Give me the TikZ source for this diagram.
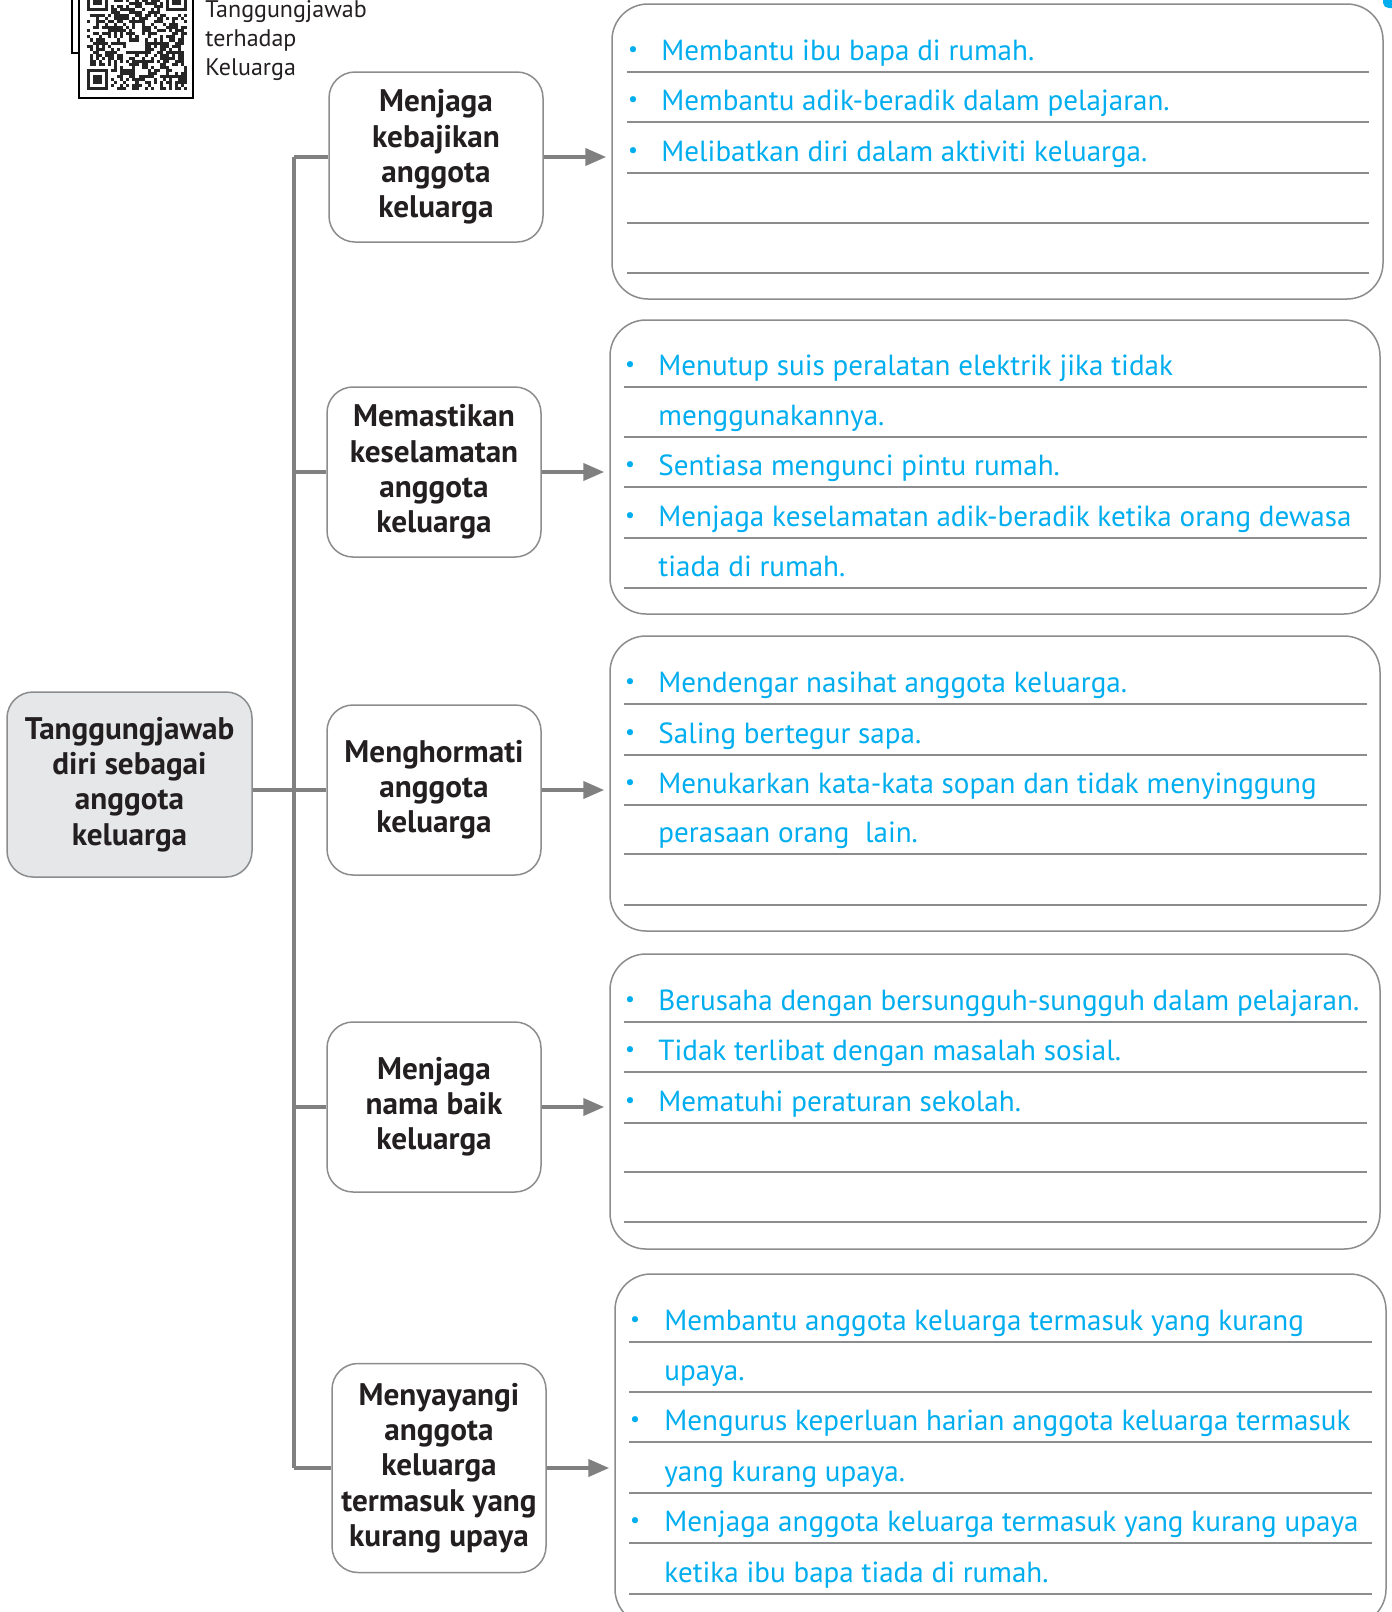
\documentclass[tikz,border=0pt]{standalone}
\usepackage{fontspec}
\setmainfont{PT Sans}
\usetikzlibrary{arrows.meta}
\definecolor{cyanb}{HTML}{00AEEF}
\definecolor{lgray}{HTML}{E6E7E8}
\definecolor{bgray}{HTML}{8A8C8E}
\definecolor{tgray}{HTML}{808080}
\definecolor{tblack}{HTML}{231F20}
\begin{document}
\begin{tikzpicture}[x=0.5pt,y=-0.5pt,
  midbox/.style={draw=bgray, line width=0.75pt, rounded corners=13pt, minimum width=107pt, minimum height=85pt, align=center, font=\fontsize{15.6}{17.6}\selectfont\bfseries, text=tblack, inner sep=0pt},
  rootbox/.style={midbox, fill=lgray, minimum width=122.5pt, minimum height=92.5pt},
  resbox/.style={draw=bgray, line width=0.75pt, rounded corners=18pt, inner sep=0pt},
  rule/.style={draw=bgray, line width=1pt},
  item/.style={anchor=base west, text=cyanb, font=\fontsize{14.55}{16}\selectfont, inner sep=0pt},
  bul/.style={anchor=center, text=cyanb, font=\fontsize{11}{12}\selectfont, inner sep=0pt},
  trunk/.style={draw=tgray, line width=2pt},
  arr/.style={trunk, -{Triangle[length=10.5pt,width=8.5pt]}, shorten >=2.5pt},
  qrtext/.style={anchor=base west, text=tblack, font=\fontsize{12}{14}\selectfont, inner sep=0pt}
]
\useasboundingbox (0,0) rectangle (1392,1612);
\fill[white] (0,0) rectangle (1392,1612);

% ---------- QR code ----------
\draw[black, line width=0.6pt] (72,-5) -- (72,53) -- (79,53);
\draw[black, line width=0.7pt, fill=white] (79,-5) rectangle (193,98);
\pgfmathsetseed{12345}
\foreach \i in {0,...,32}{
  \foreach \j in {0,...,32}{
    \pgfmathtruncatemacro{\r}{rnd<0.5}
    \pgfmathtruncatemacro{\f}{(\i<8)*(\j<8)+(\i>24)*(\j<8)+(\i<8)*(\j>24)}
    \ifnum\f=0 \ifnum\r=1
      \fill[black!85] (87+\i*3.03,-10+\j*3.03) rectangle ++(3.03,3.03);
    \fi\fi
  }
}
\foreach \a/\b in {0/0,26/0,0/26}{
  \fill[black!85] (87+\a*3.03,-10+\b*3.03) rectangle ++(7*3.03,7*3.03);
  \fill[white] (87+\a*3.03+3.03,-10+\b*3.03+3.03) rectangle ++(5*3.03,5*3.03);
  \fill[black!85] (87+\a*3.03+6.06,-10+\b*3.03+6.06) rectangle ++(3*3.03,3*3.03);
}
\node[qrtext] (qt1) at (205,17) {Tanggungjawab};
\node[qrtext] (qt2) at (205,46) {terhadap};
\node[qrtext] (qt3) at (205,75) {Keluarga};

% blue corner mark
\fill[cyanb] (1383,0) -- (1383,3) to[out=-90,in=180] (1389,8) -- (1392,8) -- (1392,0) -- cycle;

% ---------- nodes ----------
\node[rootbox] (root) at (129.5,784.5) {Tanggungjawab\\diri sebagai\\anggota\\keluarga};

\node[midbox] (m1) at (436,157) {Menjaga\\kebajikan\\anggota\\keluarga};
\node[midbox] (m2) at (434,472) {Memastikan\\keselamatan\\anggota\\keluarga};
\node[midbox] (m3) at (434,790) {Menghormati\\anggota\\keluarga};
\node[midbox] (m4) at (434,1107) {Menjaga\\nama baik\\keluarga};
\node[midbox, minimum height=104.5pt] (m5) at (439,1468) {Menyayangi\\anggota\\keluarga\\termasuk yang\\kurang upaya};

\node[resbox, minimum width=385.5pt, minimum height=147.5pt] (r1) at (997.5,151.5) {};
\node[resbox, minimum width=385pt, minimum height=147pt] (r2) at (995,467) {};
\node[resbox, minimum width=385pt, minimum height=147.5pt] (r3) at (995,783.5) {};
\node[resbox, minimum width=385pt, minimum height=147.5pt] (r4) at (995,1101.5) {};
\node[resbox, minimum width=385.5pt, minimum height=175.5pt] (r5) at (1000.5,1449.5) {};

% ---------- connectors ----------
\coordinate (t1) at (294,157);
\coordinate (t5) at (294,1468);
\draw[trunk] (t1) -- (t5);
\foreach \m in {m1,m2,m3,m4,m5}{
  \draw[trunk] (t1 |- \m.west) -- (\m.west);
}
\draw[trunk] (root.east |- m3.west) -- (m3.west);
\draw[arr] (m1.east) -- (r1.west |- m1.east);
\draw[arr] (m2.east) -- (r2.west |- m2.east);
\draw[arr] (m3.east) -- (r3.west |- m3.east);
\draw[arr] (m4.east) -- (r4.west |- m4.east);
\draw[arr] (m5.east) -- (r5.west |- m5.east);

% ---------- box 1 ----------
\foreach \y in {72,122,173,223,273}{\draw[rule] (627,\y) -- (1369,\y);}
\foreach \y/\b/\t [count=\k] in {60/1/Membantu ibu bapa di rumah.,110/1/Membantu adik-beradik dalam pelajaran.,161/1/Melibatkan diri dalam aktiviti keluarga.}{
  \node[item] (a\k) at (661,\y) {\t};
  \ifnum\b=1 \node[bul] (ab\k) at (633,\y-8) {•};\fi
}
% ---------- box 2 ----------
\foreach \y in {387,437,487,538,588}{\draw[rule] (624,\y) -- (1367,\y);}
\foreach \y/\b/\t [count=\k] in {375/1/Menutup suis peralatan elektrik jika tidak,425/0/menggunakannya.,475/1/Sentiasa mengunci pintu rumah.,526/1/Menjaga keselamatan adik-beradik ketika orang dewasa,576/0/tiada di rumah.}{
  \node[item] (b\k) at (658,\y) {\t};
  \ifnum\b=1 \node[bul] (bb\k) at (630,\y-8) {•};\fi
}
% ---------- box 3 ----------
\foreach \y in {704,755,805,854,905}{\draw[rule] (624,\y) -- (1367,\y);}
\foreach \y/\b/\t [count=\k] in {692/1/Mendengar nasihat anggota keluarga.,743/1/Saling bertegur sapa.,793/1/Menukarkan kata-kata sopan dan tidak menyinggung,842/0/perasaan orang\ \ lain.}{
  \node[item] (c\k) at (658,\y) {\t};
  \ifnum\b=1 \node[bul] (cb\k) at (630,\y-8) {•};\fi
}
% ---------- box 4 ----------
\foreach \y in {1022,1072,1123,1172,1222}{\draw[rule] (624,\y) -- (1367,\y);}
\foreach \y/\b/\t [count=\k] in {1010/1/Berusaha dengan bersungguh-sungguh dalam pelajaran.,1060/1/Tidak terlibat dengan masalah sosial.,1111/1/Mematuhi peraturan sekolah.}{
  \node[item] (d\k) at (658,\y) {\t};
  \ifnum\b=1 \node[bul] (db\k) at (630,\y-8) {•};\fi
}
% ---------- box 5 ----------
\foreach \y in {1342,1392,1442,1493,1543,1594}{\draw[rule] (629,\y) -- (1372,\y);}
\foreach \y/\b/\t [count=\k] in {1330/1/Membantu anggota keluarga termasuk yang kurang,1380/0/upaya.,1430/1/Mengurus keperluan harian anggota keluarga termasuk,1481/0/yang kurang upaya.,1531/1/Menjaga anggota keluarga termasuk yang kurang upaya,1582/0/ketika ibu bapa tiada di rumah.}{
  \node[item] (e\k) at (664,\y) {\t};
  \ifnum\b=1 \node[bul] (eb\k) at (635,\y-8) {•};\fi
}
\end{tikzpicture}
\end{document}
